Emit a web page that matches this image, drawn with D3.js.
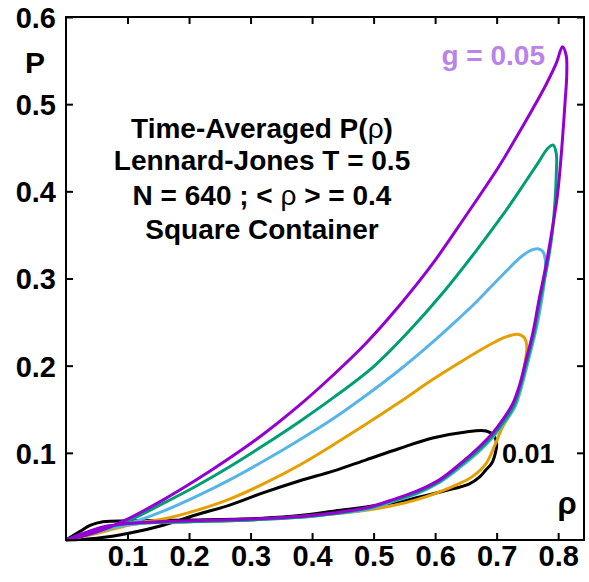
<!DOCTYPE html>
<html>
<head>
<meta charset="utf-8">
<script src="https://cdn.jsdelivr.net/npm/d3@7"></script>
<style>
  html, body { margin: 0; padding: 0; background: #fff; }
  svg { display: block; }
  text { font-family: "Liberation Sans", Arial, Helvetica, sans-serif; font-weight: bold; }
</style>
</head>
<body>
<svg id="chart" width="589" height="582"></svg>
<script>
// ---- data ----
const xTicks = [0.1, 0.2, 0.3, 0.4, 0.5, 0.6, 0.7, 0.8];
const yTicks = [0.1, 0.2, 0.3, 0.4, 0.5, 0.6];
const seriesNames = ["g = 0.05", "g2", "g3", "g4", "0.01"];
const seriesColors = ["#9400d3", "#009e73", "#56b4e9", "#e69f00", "#000000"];
// title lines; "\u03c1" parts are drawn in regular weight
const titleLines = [["Time-Averaged P(", "\u03c1", ")"], ["Lennard-Jones T = 0.5"], ["N = 640 ; < ", "\u03c1", " > = 0.4"], ["Square Container"]];

// each loop: [rho, P] in drawing order (lower branch out, upper branch back)
const loopPurple = [[0,0],[0.03,0.008],[0.06,0.015],[0.1,0.019],[0.15,0.021],[0.2,0.022],[0.3,0.024],[0.38,0.027],[0.434,0.031],[0.488,0.037],[0.526,0.045],[0.57,0.056],[0.607,0.069],[0.64,0.087],[0.672,0.107],[0.694,0.123],[0.71,0.138],[0.726,0.156],[0.737,0.177],[0.748,0.207],[0.759,0.238],[0.769,0.276],[0.78,0.314],[0.79,0.355],[0.798,0.391],[0.803,0.425],[0.807,0.46],[0.811,0.5],[0.814,0.535],[0.813,0.556],[0.807,0.566],[0.797,0.547],[0.78,0.522],[0.759,0.495],[0.732,0.462],[0.705,0.43],[0.65,0.372],[0.596,0.317],[0.542,0.269],[0.488,0.226],[0.434,0.189],[0.38,0.155],[0.32,0.121],[0.266,0.094],[0.212,0.069],[0.158,0.046],[0.1,0.024],[0.06,0.012],[0.03,0.005],[0,0]];
const loopGreen = [[0,0],[0.03,0.007],[0.06,0.014],[0.1,0.019],[0.15,0.02],[0.2,0.021],[0.3,0.023],[0.38,0.026],[0.434,0.03],[0.488,0.036],[0.526,0.044],[0.57,0.054],[0.607,0.067],[0.64,0.085],[0.672,0.104],[0.694,0.12],[0.712,0.136],[0.728,0.154],[0.739,0.177],[0.75,0.207],[0.761,0.238],[0.771,0.276],[0.782,0.314],[0.79,0.35],[0.795,0.39],[0.797,0.42],[0.797,0.443],[0.792,0.453],[0.784,0.45],[0.765,0.43],[0.745,0.409],[0.723,0.386],[0.705,0.368],[0.667,0.332],[0.612,0.283],[0.558,0.24],[0.5,0.199],[0.434,0.163],[0.38,0.136],[0.32,0.108],[0.266,0.084],[0.212,0.062],[0.158,0.042],[0.104,0.023],[0.06,0.012],[0.03,0.005],[0,0]];
const loopBlue = [[0,0],[0.04,0.008],[0.08,0.015],[0.12,0.019],[0.2,0.021],[0.3,0.023],[0.38,0.026],[0.434,0.03],[0.488,0.035],[0.526,0.043],[0.57,0.053],[0.607,0.066],[0.64,0.083],[0.672,0.102],[0.694,0.118],[0.712,0.134],[0.73,0.153],[0.741,0.177],[0.752,0.207],[0.763,0.238],[0.772,0.27],[0.778,0.3],[0.779,0.322],[0.775,0.331],[0.767,0.334],[0.752,0.331],[0.735,0.322],[0.715,0.308],[0.69,0.29],[0.661,0.269],[0.626,0.246],[0.596,0.227],[0.542,0.195],[0.488,0.166],[0.434,0.139],[0.38,0.115],[0.32,0.09],[0.266,0.069],[0.212,0.05],[0.158,0.033],[0.12,0.023],[0.08,0.015],[0.04,0.007],[0,0]];
const loopOrange = [[0,0],[0.04,0.006],[0.08,0.014],[0.12,0.019],[0.2,0.021],[0.3,0.023],[0.38,0.027],[0.488,0.034],[0.569,0.046],[0.64,0.065],[0.661,0.073],[0.683,0.088],[0.696,0.107],[0.71,0.13],[0.726,0.149],[0.737,0.169],[0.745,0.199],[0.749,0.222],[0.745,0.232],[0.734,0.236],[0.715,0.233],[0.694,0.226],[0.65,0.208],[0.596,0.184],[0.542,0.158],[0.488,0.133],[0.434,0.109],[0.38,0.086],[0.32,0.064],[0.266,0.047],[0.212,0.034],[0.158,0.024],[0.12,0.02],[0.08,0.013],[0.04,0.006],[0,0]];
const loopBlack = [[0,0],[0.023,0.01],[0.04,0.017],[0.06,0.021],[0.104,0.022],[0.212,0.023],[0.32,0.025],[0.38,0.028],[0.434,0.033],[0.488,0.038],[0.542,0.044],[0.613,0.056],[0.655,0.064],[0.672,0.072],[0.682,0.08],[0.692,0.088],[0.698,0.1],[0.7,0.11],[0.695,0.12],[0.683,0.125],[0.65,0.124],[0.596,0.117],[0.542,0.105],[0.488,0.092],[0.434,0.079],[0.38,0.068],[0.32,0.054],[0.266,0.04],[0.212,0.029],[0.158,0.017],[0.104,0.008],[0.05,0.002],[0,0]];
const loops = [loopPurple, loopGreen, loopBlue, loopOrange, loopBlack];

// ---- layout ----
const svg = d3.select("#chart");
const L = 66, R = 584, T = 17, B = 540;
const x = d3.scaleLinear().domain([0, 0.842]).range([L, R]);
const y = d3.scaleLinear().domain([0, 0.6]).range([B, T]);

// curves
const line = d3.line().x(d => x(d[0])).y(d => y(d[1])).curve(d3.curveCatmullRom.alpha(0.5));
const drawOrder = [4, 3, 2, 1, 0];
svg.append("g").selectAll("path").data(drawOrder).join("path")
  .attr("d", i => line(loops[i]))
  .attr("fill", "none")
  .attr("stroke", i => seriesColors[i])
  .attr("stroke-width", 3)
  .attr("stroke-linejoin", "round");

// axes with inward ticks on all sides
const tickLen = 7;
svg.append("g").attr("transform", `translate(0,${B})`)
  .call(d3.axisBottom(x).tickValues(xTicks).tickSize(-tickLen).tickFormat(d3.format(".1f")))
  .call(g => g.select(".domain").remove())
  .call(g => g.selectAll("line").attr("stroke-width", 2))
  .call(g => g.selectAll("text").attr("font-size", 29).attr("dy", null).attr("y", 26).attr("fill", "#000"));
svg.append("g").attr("transform", `translate(0,${T})`)
  .call(d3.axisTop(x).tickValues(xTicks).tickSize(-tickLen).tickFormat(""))
  .call(g => g.select(".domain").remove())
  .call(g => g.selectAll("line").attr("stroke-width", 2));
svg.append("g").attr("transform", `translate(${L},0)`)
  .call(d3.axisLeft(y).tickValues(yTicks).tickSize(-tickLen).tickFormat(d3.format(".1f")))
  .call(g => g.select(".domain").remove())
  .call(g => g.selectAll("line").attr("stroke-width", 2))
  .call(g => g.selectAll("text").attr("font-size", 29).attr("x", -10).attr("dy", "0.36em").attr("fill", "#000"));
svg.append("g").attr("transform", `translate(${R},0)`)
  .call(d3.axisRight(y).tickValues(yTicks).tickSize(-tickLen).tickFormat(""))
  .call(g => g.select(".domain").remove())
  .call(g => g.selectAll("line").attr("stroke-width", 2));

// frame
svg.append("rect").attr("x", L).attr("y", T).attr("width", R - L).attr("height", B - T)
  .attr("fill", "none").attr("stroke", "#000").attr("stroke-width", 2);

// axis titles
svg.append("text").attr("x", 35).attr("y", 73).attr("text-anchor", "middle").attr("font-size", 30).text("P");
svg.append("text").attr("x", 567).attr("y", 514).attr("text-anchor", "middle").attr("font-size", 31).attr("font-weight", "normal").text("\u03c1");

// annotations
const tl = svg.append("g").selectAll("text").data(titleLines).join("text")
  .attr("x", 262).attr("y", (d, i) => [138, 170, 205, 239][i])
  .attr("text-anchor", "middle").attr("font-size", 28);
tl.selectAll("tspan").data(d => d).join("tspan")
  .attr("font-weight", s => s === "\u03c1" ? "normal" : "bold")
  .text(s => s);
svg.append("text").attr("x", 545).attr("y", 65).attr("text-anchor", "end").attr("font-size", 28)
  .attr("fill", "#b983ea").text(seriesNames[0]);
svg.append("text").attr("x", 502).attr("y", 463).attr("font-size", 27).text(seriesNames[4]);
</script>
</body>
</html>
